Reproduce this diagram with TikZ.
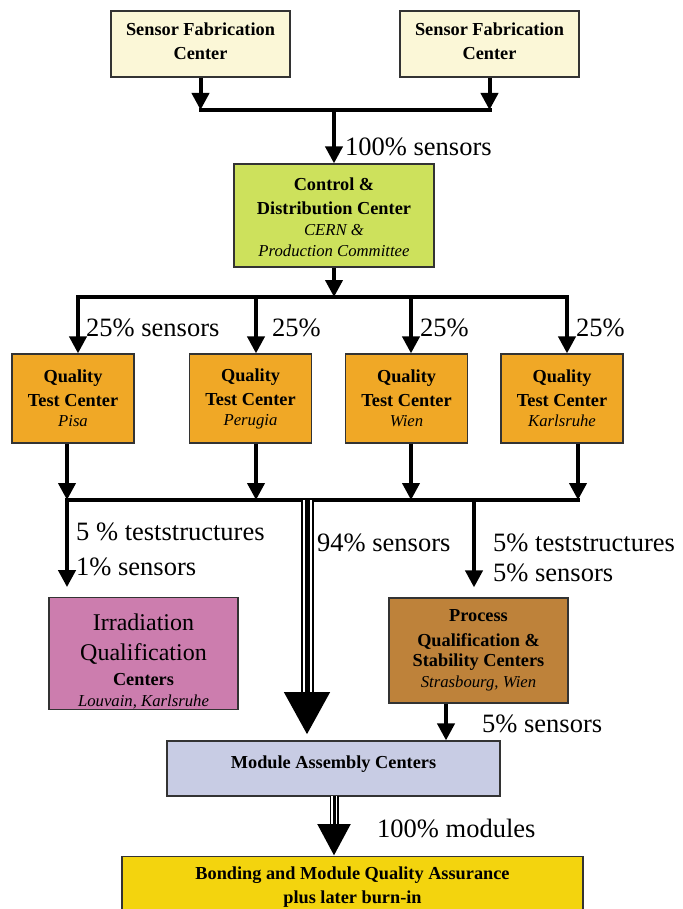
\documentclass[tikz,border=0pt]{standalone}
\usepackage{fontspec}
\setmainfont{Liberation Serif}
\usetikzlibrary{arrows.meta}
\definecolor{fabcol}{RGB}{251,247,215}
\definecolor{ctrlcol}{RGB}{205,225,92}
\definecolor{qtccol}{RGB}{240,168,38}
\definecolor{irrcol}{RGB}{204,125,174}
\definecolor{proccol}{RGB}{190,130,58}
\definecolor{modcol}{RGB}{200,204,228}
\definecolor{bondcol}{RGB}{243,212,14}
\tikzset{box/.style={draw=black!80, line width=1.2pt, align=center, inner sep=0pt, font=\rmfamily\bfseries\fontsize{18.3}{24}\selectfont}}
\tikzset{flow/.style={black, line width=4pt, -{Triangle[length=17pt, width=17pt]}}}
\tikzset{bar/.style={black, line width=4pt, line cap=rect}}
\tikzset{lbl/.style={anchor=west, inner sep=0pt, font=\rmfamily\mdseries\fontsize{26.5}{32}\selectfont}}
\newcommand{\site}[1]{{\normalfont\itshape\fontsize{16.7}{20}\selectfont #1}}
\newcommand{\plain}[1]{{\mdseries\fontsize{24}{30}\selectfont #1}}
% triple line arrow: start, tip, head length, head width, outer, gap, inner
\newcommand{\bigflow}[7]{%
	\draw[line width=#5, -{Triangle[length=#3, width=#4]}] (#1) -- (#2);
	\draw[line width=#6, white, shorten >=#3] (#1) -- (#2);
	\draw[line width=#7, black, shorten >=#3] (#1) -- (#2);
}

\begin{document}
\begin{tikzpicture}[x=1pt, y=-1pt]
	\clip (0,0) rectangle (682,909);
	
	% Fabrication
	\node[box, fill=fabcol, minimum width=179, minimum height=66] (fab1) at (200.5,44) {Sensor Fabrication\\Center\rule[-6pt]{0pt}{1pt}};
	\node[box, fill=fabcol, minimum width=179, minimum height=66] (fab2) at (489.5,44) {Sensor Fabrication\\Center\rule[-6pt]{0pt}{1pt}};
	\coordinate (j1) at (334,110);
	\draw[flow] (fab1) -- (fab1 |- j1);
	\draw[flow] (fab2) -- (fab2 |- j1);
	\draw[bar] (fab1 |- j1) -- (fab2 |- j1);
	
	% Control and distribution
	\node[box, fill=ctrlcol, minimum width=200, minimum height=103] (ctrl) at (334,215.5) {\rule{0pt}{17pt}Control \&\\Distribution Center\\[-3pt]\site{CERN \&}\\[-3pt]\site{Production Committee}};
	\draw[flow] (j1) -- (ctrl);
	\node[lbl] (l100) at (345,147) {100\% sensors};
	
	% Quality test centers
	\node[box, fill=qtccol, minimum width=122, minimum height=89] (qtc1) at (73,398.5) {Quality\\Test Center\\[-4pt]\site{Pisa}};
	\node[box, fill=qtccol, minimum width=122, minimum height=89] (qtc2) at (250.5,398.5) {Quality\\Test Center\\[-4pt]\site{Perugia}};
	\node[box, fill=qtccol, minimum width=122, minimum height=89] (qtc3) at (406.5,398.5) {Quality\\Test Center\\[-4pt]\site{Wien}};
	\node[box, fill=qtccol, minimum width=122, minimum height=89] (qtc4) at (562,398.5) {Quality\\Test Center\\[-4pt]\site{Karlsruhe}};
	\coordinate (j2) at (334,297);
	\coordinate (d1) at (78,297);
	\coordinate (d2) at (256,297);
	\coordinate (d3) at (411,297);
	\coordinate (d4) at (567,297);
	\draw[flow] (ctrl) -- (j2);
	\draw[bar] (d1) -- (d4);
	\draw[flow] (d1) -- (d1 |- qtc1.north);
	\draw[flow] (d2) -- (d2 |- qtc2.north);
	\draw[flow] (d3) -- (d3 |- qtc3.north);
	\draw[flow] (d4) -- (d4 |- qtc4.north);
	\node[lbl] (l25a) at (86,328) {25\% sensors};
	\node[lbl] (l25b) at (272,328) {25\%};
	\node[lbl] (l25c) at (420,328) {25\%};
	\node[lbl] (l25d) at (576,328) {25\%};
	
	% Collection
	\coordinate (e1) at (67,500);
	\coordinate (e2) at (256,500);
	\coordinate (e3) at (411,500);
	\coordinate (e4) at (578,500);
	\coordinate (e5) at (474,500);
	\coordinate (e6) at (307,500);
	\draw[flow] (e1 |- qtc1.south) -- (e1);
	\draw[flow] (e2 |- qtc2.south) -- (e2);
	\draw[flow] (e3 |- qtc3.south) -- (e3);
	\draw[flow] (e4 |- qtc4.south) -- (e4);
	\draw[bar] (e1) -- (e4);
	
	% Irradiation and process qualification
	\node[box, fill=irrcol, minimum width=189, minimum height=111] (irr) at (143.5,653.5) {\rule{0pt}{33pt}\plain{Irradiation}\\[6pt]\plain{Qualification}\\[1pt]Centers\\[-3pt]\site{Louvain, Karlsruhe}};
	\node[box, fill=proccol, minimum width=179, minimum height=105] (proc) at (478.5,650.5) {Process\\[1pt]Qualification \&\\[-4pt]Stability Centers\\[-3pt]\site{Strasbourg, Wien}};
	\draw[flow, shorten >=10pt] (e1) -- (e1 |- irr.north);
	\draw[flow, shorten >=10pt] (e5) -- (e5 |- proc.north);
	\node[lbl, font=\rmfamily\fontsize{26.5}{35}\selectfont, align=left] (l5a) at (76,549.5) {5 \% teststructures\\1\% sensors};
	\node[lbl, font=\rmfamily\fontsize{26.5}{30}\selectfont, align=left] (l5b) at (493,558) {5\% teststructures\\5\% sensors};
	\node[lbl] (l94) at (317,543) {94\% sensors};
	
	% Module assembly
	\node[box, fill=modcol, minimum width=333, minimum height=55] (mod) at (333.5,768.5) {Module Assembly Centers\rule[-12pt]{0pt}{1pt}};
	\coordinate (t6) at (307,735);
	\bigflow{e6}{t6}{43pt}{43pt}{13pt}{9pt}{5pt}
	\coordinate (p1) at (446,703);
	\draw[flow] (p1 |- proc.south) -- (p1 |- mod.north);
	\node[lbl] (l5c) at (482,724) {5\% sensors};
	
	% Bonding
	\node[box, fill=bondcol, minimum width=461, minimum height=60, anchor=north] (bond) at (352.5,856) {Bonding and Module Quality Assurance\\plus later burn-in};
	\coordinate (m1) at (334,796);
	\coordinate (t7) at (334,856);
	\bigflow{m1}{t7}{32pt}{31pt}{9pt}{5.5pt}{3pt}
	\node[lbl] (l100m) at (377,828) {100\% modules};
\end{tikzpicture}
\end{document}
